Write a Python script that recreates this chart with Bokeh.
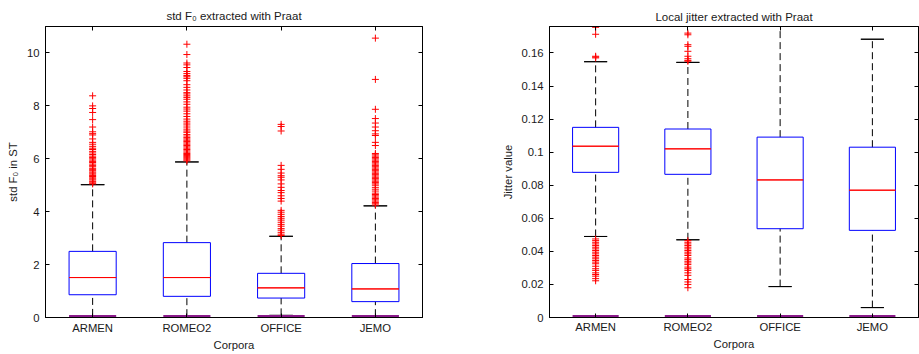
from bokeh.plotting import figure
from bokeh.layouts import row
from bokeh.models import Range1d, FactorRange, FixedTicker, LinearAxis, CategoricalAxis
from bokeh.embed import file_html
from bokeh.resources import INLINE

corpora = ["ARMEN", "ROMEO2", "OFFICE", "JEMO"]

# ---- std F0 (semitones) ----
f0_lower = [0.06, 0.05, 0.08, 0.05]
f0_q1 = [0.86, 0.80, 0.735, 0.60]
f0_med = [1.51, 1.51, 1.12, 1.08]
f0_q3 = [2.50, 2.83, 1.67, 2.04]
f0_upper = [5.02, 5.88, 3.07, 4.22]
f0_zero = [0, 0, 0, 0]
f0_out_armen = [5.05, 5.08, 5.12, 5.15, 5.2, 5.24, 5.28, 5.33, 5.37, 5.42, 5.46, 5.5, 5.55, 5.6,
                5.64, 5.7, 5.75, 5.8, 5.86, 5.9, 5.95, 6.0, 6.05, 6.1, 6.16, 6.22, 6.28, 6.35,
                6.4, 6.47, 6.55, 6.62, 6.75, 6.9, 6.95, 7.02, 7.2, 7.48, 7.75, 7.9, 8.0, 8.38]
f0_out_romeo2 = [5.92, 5.96, 6.0, 6.04, 6.08, 6.12, 6.16, 6.2, 6.25, 6.3, 6.35, 6.4, 6.45, 6.5,
                 6.55, 6.6, 6.65, 6.7, 6.75, 6.8, 6.86, 6.92, 7.0, 7.05, 7.12, 7.2, 7.28, 7.35,
                 7.42, 7.5, 7.6, 7.7, 7.8, 7.88, 7.95, 8.06, 8.15, 8.25, 8.32, 8.38, 8.45, 8.5,
                 8.6, 8.7, 8.8, 8.95, 9.04, 9.1, 9.15, 9.22, 9.3, 9.45, 9.55, 9.62, 9.94, 10.33]
f0_out_office = [3.1, 3.15, 3.22, 3.3, 3.36, 3.45, 3.52, 3.6, 3.68, 3.75, 3.82, 3.9, 3.98, 4.05,
                 4.4, 4.5, 4.6, 4.72, 4.8, 4.92, 5.05, 5.2, 5.3, 5.36, 5.46, 5.6, 5.75, 7.05,
                 7.22, 7.3]
f0_out_jemo = [4.25, 4.3, 4.35, 4.4, 4.45, 4.5, 4.55, 4.6, 4.65, 4.7, 4.78, 4.85, 4.92, 5.0,
               5.05, 5.1, 5.15, 5.2, 5.25, 5.3, 5.35, 5.4, 5.45, 5.5, 5.55, 5.6, 5.65, 5.7,
               5.75, 5.8, 5.85, 5.9, 5.95, 6.0, 6.05, 6.1, 6.15, 6.2, 6.5, 6.62, 6.88, 6.94,
               7.06, 7.2, 7.35, 7.52, 7.87, 9.0, 10.56]
f0_ticks = [0, 2, 4, 6, 8, 10]
f0_tick_labels = ["0", "2", "4", "6", "8", "10"]

# ---- local jitter ----
jit_lower = [0.049, 0.047, 0.0187, 0.006]
jit_q1 = [0.0878, 0.0866, 0.0537, 0.0527]
jit_med = [0.1036, 0.102, 0.0832, 0.077]
jit_q3 = [0.115, 0.114, 0.1091, 0.103]
jit_upper = [0.1547, 0.1543, 0.19, 0.1683]
jit_zero = [0, 0, 0, 0]
jit_out_armen = [0.0222, 0.0235, 0.025, 0.026, 0.027, 0.0285, 0.0295, 0.031, 0.0325, 0.0335,
                 0.0345, 0.0355, 0.0365, 0.0375, 0.0385, 0.0395, 0.0405, 0.0415, 0.0425, 0.0435,
                 0.0445, 0.0455, 0.0465, 0.0475, 0.157, 0.1575, 0.158, 0.1713, 0.1755]
jit_out_romeo2 = [0.018, 0.02, 0.0215, 0.023, 0.0255, 0.027, 0.0285, 0.0295, 0.0305, 0.032,
                  0.033, 0.034, 0.035, 0.036, 0.0375, 0.0385, 0.0395, 0.0405, 0.0415, 0.0425,
                  0.0435, 0.0445, 0.0455, 0.0465, 0.155, 0.1555, 0.1565, 0.158, 0.161, 0.164,
                  0.165, 0.171, 0.172]
jit_out_office = []
jit_out_jemo = []
jit_ticks = [0, 0.02, 0.04, 0.06, 0.08, 0.1, 0.12, 0.14, 0.16]
jit_tick_labels = ["0", "0.02", "0.04", "0.06", "0.08", "0.1", "0.12", "0.14", "0.16"]

FONT = "Liberation Sans"
FS = "11.3px"
TXT = "#1a1a1a"


def make_panel(title, lower, q1, med, q3, upper, zero, outliers, ymax, ticks, tick_labels,
               ylabel, width, height, bl, br, bt, bb, xstand, xlstand, tstand):
    p = figure(width=width, height=height, x_range=FactorRange(*corpora),
               y_range=Range1d(0, ymax), output_backend="svg", toolbar_location=None,
               min_border_left=bl, min_border_right=br, min_border_top=bt, min_border_bottom=bb,
               background_fill_color="white", border_fill_color="white")
    p.title.text = title
    p.title.align = "center"
    p.title.text_font = FONT
    p.title.text_font_size = "11.5px"
    p.title.text_font_style = "normal"
    p.title.text_color = TXT
    p.title.standoff = tstand
    p.xgrid.visible = False
    p.ygrid.visible = False
    p.outline_line_color = "black"
    p.outline_line_width = 1
    p.outline_line_alpha = 1

    # whiskers
    p.segment(x0=corpora, y0=q3, x1=corpora, y1=upper, line_color="black", line_dash="7 4", line_width=1)
    p.segment(x0=corpora, y0=lower, x1=corpora, y1=q1, line_color="black", line_dash="7 4", line_width=1)
    p.vbar(x=corpora, width=0.25, bottom=upper, top=upper, fill_color=None, line_color="black", line_width=1)
    p.vbar(x=corpora, width=0.25, bottom=lower, top=lower, fill_color=None, line_color="black", line_width=1)
    # boxes
    p.vbar(x=corpora, width=0.5, bottom=q1, top=q3, fill_color=None, line_color="#0000ff", line_width=1)
    p.vbar(x=corpora, width=0.5, bottom=med, top=med, fill_color=None, line_color="#ff0000", line_width=1)
    # outliers
    for name, vals in zip(corpora, outliers):
        if vals:
            p.scatter(x=[name] * len(vals), y=vals, marker="cross", size=7,
                      line_color="#ff0000", line_width=1)
    # degenerate zero boxes
    p.vbar(x=corpora, width=0.5, bottom=zero, top=zero, fill_color=None, line_color="#8a1a8a", line_width=5)

    xa = p.xaxis[0]
    ya = p.yaxis[0]
    for ax in (xa, ya):
        ax.major_tick_in = 4
        ax.major_tick_out = 0
        ax.minor_tick_line_color = None
        ax.major_tick_line_color = "black"
        ax.axis_line_color = "black"
        ax.major_label_text_font = FONT
        ax.major_label_text_font_size = FS
        ax.major_label_text_color = TXT
        ax.axis_label_text_font = FONT
        ax.axis_label_text_font_size = FS
        ax.axis_label_text_font_style = "normal"
        ax.axis_label_text_color = TXT
    xa.axis_label = "Corpora"
    xa.major_label_standoff = xstand
    xa.axis_label_standoff = xlstand
    ya.axis_label = ylabel
    ya.ticker = FixedTicker(ticks=ticks)
    ya.major_label_overrides = {t: l for t, l in zip(ticks, tick_labels)}
    ya.major_label_standoff = 6
    ya.axis_label_standoff = 5

    top = CategoricalAxis(major_tick_in=4, major_tick_out=0, major_label_text_font_size="0px",
                          major_label_text_color=None,
                          major_label_standoff=0, axis_line_color="black",
                          major_tick_line_color="black", minor_tick_line_color=None)
    right = LinearAxis(ticker=FixedTicker(ticks=ticks), major_tick_in=4, major_tick_out=0,
                       major_label_text_font_size="0px", major_label_text_color=None,
                       major_label_standoff=0,
                       axis_line_color="black", major_tick_line_color="black",
                       minor_tick_line_color=None)
    p.add_layout(top, "above")
    p.add_layout(right, "right")
    return p


p1 = make_panel("std F\u2080 extracted with Praat", f0_lower, f0_q1, f0_med, f0_q3, f0_upper, f0_zero,
                [f0_out_armen, f0_out_romeo2, f0_out_office, f0_out_jemo], 11,
                f0_ticks, f0_tick_labels, "std F\u2080 in ST",
                width=460, height=354, bl=45, br=38, bt=26, bb=33, xstand=4, xlstand=2, tstand=10)
p2 = make_panel("Local jitter extracted with Praat", jit_lower, jit_q1, jit_med, jit_q3, jit_upper, jit_zero,
                [jit_out_armen, jit_out_romeo2, jit_out_office, jit_out_jemo], 0.176,
                jit_ticks, jit_tick_labels, "Jitter value",
                width=459, height=354, bl=89, br=1, bt=25, bb=37, xstand=3, xlstand=2, tstand=8)

layout = row(p1, p2)
open("out.html", "w").write(file_html(layout, INLINE))
